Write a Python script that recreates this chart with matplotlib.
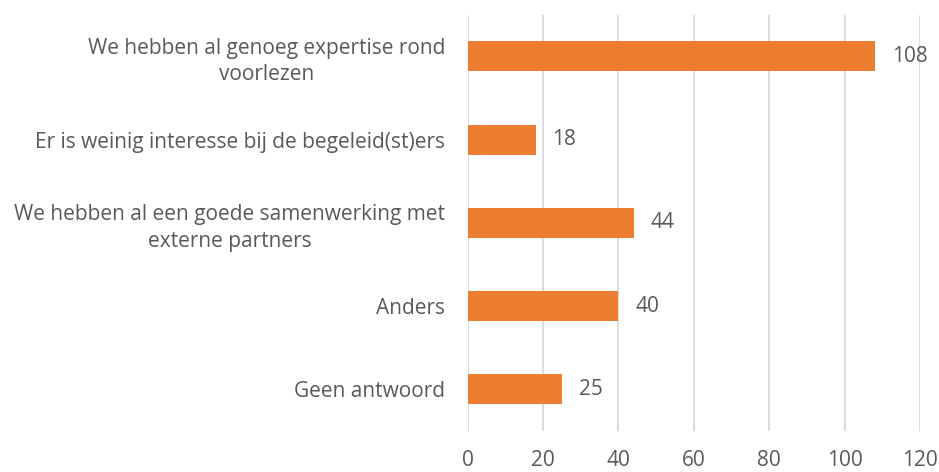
import matplotlib
matplotlib.use("Agg")
import matplotlib.pyplot as plt

# answers to the question, top to bottom
categories = [
    "We hebben al genoeg expertise rond\nvoorlezen",
    "Er is weinig interesse bij de begeleid(st)ers",
    "We hebben al een goede samenwerking met\nexterne partners",
    "Anders",
    "Geen antwoord",
]
counts = [108, 18, 44, 40, 25]
x_ticks = [0, 20, 40, 60, 80, 100, 120]

text_color = "#595959"
bar_color = "#ED7D31"

plt.rcParams["font.family"] = ["Open Sans", "DejaVu Sans"]

fig = plt.figure(figsize=(9.39, 4.72), dpi=100)
ax = fig.add_axes([0.498, 0.087, 0.482, 0.882])

y_pos = list(range(len(categories)))
ax.barh(y_pos, counts, height=0.36, color=bar_color, zorder=3)

for y, v in zip(y_pos, counts):
    ax.annotate(str(v), (v, y), xytext=(12, 0), textcoords="offset points",
                va="center", ha="left", fontsize=15, color=text_color)

ax.set_xlim(0, 120)
ax.set_ylim(len(categories) - 0.5, -0.5)
ax.set_xticks(x_ticks)
ax.set_yticks(y_pos)
ax.set_yticklabels(categories, fontsize=15, color=text_color,
                   multialignment="center", linespacing=1.35)
ax.tick_params(axis="x", labelsize=15, labelcolor=text_color, length=0, pad=14)
ax.tick_params(axis="y", length=0, pad=16)

ax.grid(axis="x", color="#D9D9D9", linewidth=1.3, zorder=0)
for s in ax.spines.values():
    s.set_visible(False)

fig.savefig("out.png", dpi=100)
